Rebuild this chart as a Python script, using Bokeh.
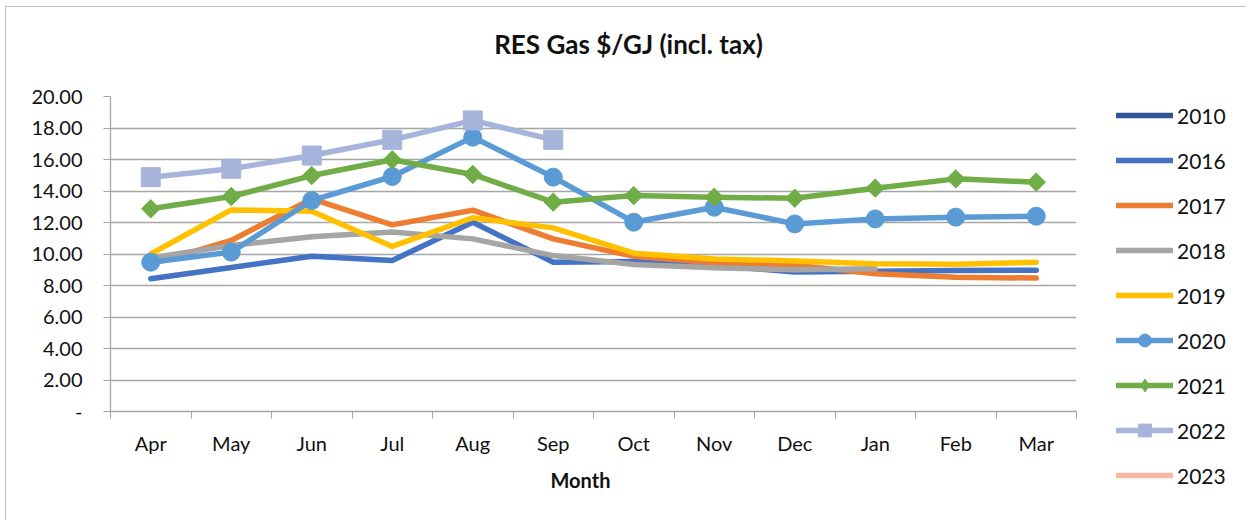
import numpy as np
from bokeh.plotting import figure
from bokeh.models import (Range1d, LinearAxis, FixedTicker, Legend, LegendItem,
                          Title, Label, NumeralTickFormatter, Grid)
from bokeh.embed import file_html
from bokeh.resources import INLINE

nan = np.nan

# ---- data ----
months = ["Apr", "May", "Jun", "Jul", "Aug", "Sep", "Oct", "Nov", "Dec", "Jan", "Feb", "Mar"]
y_ticks = [0, 2, 4, 6, 8, 10, 12, 14, 16, 18, 20]

s2010 = [nan] * 12
s2016 = [8.43, 9.14, 9.86, 9.59, 12.02, 9.48, 9.52, 9.30, 8.85, 8.90, 8.95, 8.97]
s2017 = [9.35, 10.86, 13.50, 11.85, 12.78, 10.96, 9.85, 9.45, 9.30, 8.74, 8.53, 8.47]
s2018 = [9.75, 10.54, 11.10, 11.39, 10.96, 9.90, 9.33, 9.12, 9.00, 9.06, nan, nan]
s2019 = [10.00, 12.80, 12.72, 10.48, 12.30, 11.66, 10.05, 9.69, 9.56, 9.38, 9.35, 9.48]
s2020 = [9.48, 10.12, 13.40, 14.92, 17.42, 14.88, 12.02, 12.97, 11.91, 12.23, 12.34, 12.40]
s2021 = [12.87, 13.65, 14.98, 15.98, 15.05, 13.29, 13.71, 13.60, 13.54, 14.18, 14.77, 14.56]
s2022 = [14.88, 15.41, 16.25, 17.25, 18.48, 17.25, nan, nan, nan, nan, nan, nan]
s2023 = [nan] * 12

series = [
    ("2010", s2010, "#2F5597", None),
    ("2016", s2016, "#4472C4", None),
    ("2017", s2017, "#ED7D31", None),
    ("2018", s2018, "#A5A5A5", None),
    ("2019", s2019, "#FFC000", None),
    ("2020", s2020, "#5B9BD5", "circle"),
    ("2021", s2021, "#70AD47", "diamond"),
    ("2022", s2022, "#A6B4DB", "square"),
    ("2023", s2023, "#F4B9A0", None),
]

xs = [i + 0.5 for i in range(len(months))]

FONT = "Lato"
TXT = "#111111"
GRID = "#A6A6A6"
BORDER = "1px solid #BFBFBF"

# ---------------- main chart ----------------
p = figure(width=1080, height=514, output_backend="svg", toolbar_location=None,
           x_range=Range1d(0, len(months)), y_range=Range1d(0, 20),
           x_axis_type=None, y_axis_type=None,
           min_border_left=104, min_border_right=10,
           min_border_top=89, min_border_bottom=110,
           styles={"border-left": BORDER, "border-top": BORDER,
                   "margin-left": "5px", "margin-top": "6px"})
p.outline_line_color = None
p.background_fill_color = "white"
p.border_fill_color = "white"

yax = LinearAxis(ticker=FixedTicker(ticks=y_ticks, minor_ticks=[]),
                 formatter=NumeralTickFormatter(format="0.00"))
yax.major_label_overrides = {0: "-"}
yax.axis_line_color = GRID
yax.axis_line_width = 1.3
yax.major_tick_line_color = GRID
yax.major_tick_out = 7
yax.major_tick_in = 0
yax.minor_tick_line_color = None
yax.major_label_standoff = 21
yax.major_label_text_font = FONT
yax.major_label_text_font_size = "20px"
yax.major_label_text_color = TXT
p.add_layout(yax, "left")

xax = LinearAxis(ticker=FixedTicker(ticks=xs, minor_ticks=list(range(len(months) + 1))))
xax.major_label_overrides = {x: m for x, m in zip(xs, months)}
xax.axis_line_color = GRID
xax.axis_line_width = 1.3
xax.major_tick_line_color = None
xax.major_tick_out = 7
xax.minor_tick_line_color = GRID
xax.minor_tick_out = 7
xax.minor_tick_in = 0
xax.major_label_standoff = 12
xax.major_label_text_font = FONT
xax.major_label_text_font_size = "20px"
xax.major_label_text_color = TXT
p.add_layout(xax, "below")

p.add_layout(Title(text="Month", align="left", offset=440, text_font=FONT,
                   text_font_size="20px", text_font_style="bold", text_color=TXT,
                   standoff=16), "below")

grid = Grid(dimension=1, ticker=FixedTicker(ticks=y_ticks[1:]))
grid.grid_line_color = GRID
grid.grid_line_width = 1.3
p.add_layout(grid)

for name, vals, color, marker in series:
    p.line(xs, vals, line_color=color, line_width=5.5, line_cap="round", line_join="round")
    if marker == "circle":
        p.scatter(xs, vals, marker="circle", size=18, fill_color=color, line_color=color)
    elif marker == "diamond":
        p.scatter(xs, vals, marker="square", angle=np.pi / 4, size=13,
                  fill_color=color, line_color=color)
    elif marker == "square":
        p.scatter(xs, vals, marker="square", size=19, fill_color=color, line_color=color)

# ---------------- transparent overlay: chart title + legend ----------------
# Its ranges are in page pixels (y negated), so none of the series data is in view
# and only the legend keys and the title appear.
OX, OW = 400, 846
pl = figure(width=OW, height=514, output_backend="svg", toolbar_location=None,
            x_range=Range1d(OX, OX + OW), y_range=Range1d(-521, -7),
            x_axis_type=None, y_axis_type=None,
            min_border_left=0, min_border_right=0, min_border_top=0, min_border_bottom=0,
            styles={"position": "absolute", "left": f"{OX}px", "top": "6px",
                    "border-top": BORDER})
pl.outline_line_color = None
pl.grid.visible = False
pl.background_fill_color = None
pl.border_fill_color = None

pl.add_layout(Label(x=628, y=-43, text="RES Gas $/GJ (incl. tax)", text_font=FONT,
                    text_font_size="26px", text_font_style="bold", text_color=TXT,
                    text_align="center", text_baseline="middle"))

items = []
for name, vals, color, marker in series:
    rs = [pl.line(xs, vals, line_color=color, line_width=5.5, line_cap="round")]
    if marker is not None:
        rs.append(pl.scatter(xs, vals, marker=marker, fill_color=color, line_color=color))
    items.append(LegendItem(label=name, renderers=rs))

legend = Legend(items=items, location=(1116 - OX, 30))
legend.padding = 0
legend.margin = 0
legend.border_line_color = None
legend.background_fill_alpha = 0
legend.glyph_width = 57
legend.glyph_height = 32
legend.label_height = 32
legend.spacing = 13
legend.label_standoff = 4
legend.label_text_font = FONT
legend.label_text_font_size = "21px"
legend.label_text_color = TXT
pl.add_layout(legend, "center")

open("out.html", "w").write(file_html([p, pl], INLINE))
